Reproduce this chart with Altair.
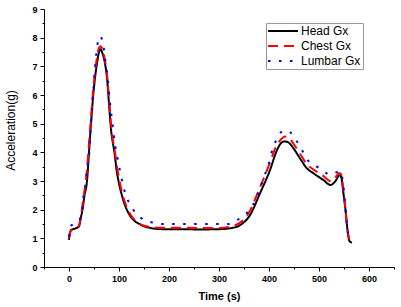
import altair as alt
import pandas as pd

series_names = ["Head Gx", "Chest Gx", "Lumbar Gx"]
series_colors = ["#000000", "#ff0000", "#0000ff"]
series_dash = [[1, 0], [10, 6], [2.5, 8.5]]

head_t = [0, 2, 5, 10, 15, 20, 24, 27, 31, 36, 40, 44, 48, 52, 56, 60, 63, 67, 72, 76, 80, 84,
          88, 91, 95, 99, 105, 111, 117, 125, 133, 141, 150, 161, 175, 190, 220, 260, 300, 322,
          342, 362, 382, 402, 416, 426, 432, 440, 449, 462, 476, 489, 509, 523, 529, 535, 539,
          542, 545, 548, 553, 557, 561, 566]
head_g = [0.95, 1.2, 1.3, 1.33, 1.36, 1.42, 1.75, 2.0, 2.5, 3.0, 4.0, 5.0, 5.9, 6.6, 7.1, 7.5,
          7.6, 7.45, 7.1, 6.6, 5.7, 4.8, 4.3, 4.0, 3.4, 3.0, 2.55, 2.2, 1.95, 1.72, 1.58, 1.5,
          1.42, 1.37, 1.33, 1.32, 1.32, 1.31, 1.32, 1.35, 1.46, 1.81, 2.57, 3.38, 4.08, 4.35,
          4.38, 4.33, 4.14, 3.79, 3.44, 3.27, 3.03, 2.86, 2.92, 3.05, 3.18, 3.2, 3.1, 2.69,
          1.99, 1.29, 0.9, 0.85]

chest_t = [0, 3, 5, 10, 15, 20, 24, 28, 32, 36, 40, 44, 48, 52, 56, 60, 63, 67, 72, 76, 80, 84,
           88, 92, 96, 100, 106, 112, 118, 126, 134, 142, 152, 163, 180, 220, 260, 300, 320, 340,
           360, 380, 400, 414, 424, 432, 440, 449, 462, 476, 489, 509, 523, 530, 536, 541, 545,
           548, 553, 557, 561]
chest_g = [1.0, 1.25, 1.28, 1.32, 1.36, 1.45, 1.8, 2.3, 2.8, 3.4, 4.3, 5.2, 6.1, 6.8, 7.3, 7.65,
           7.7, 7.6, 7.2, 6.7, 5.9, 5.0, 4.4, 4.0, 3.5, 3.1, 2.6, 2.25, 2.0, 1.75, 1.6, 1.5, 1.43,
           1.4, 1.37, 1.37, 1.36, 1.36, 1.4, 1.52, 1.9, 2.7, 3.55, 4.2, 4.45, 4.55, 4.5, 4.3,
           3.95, 3.58, 3.4, 3.17, 3.0, 3.05, 3.2, 3.28, 3.2, 2.8, 2.0, 1.3, 0.92]

lumbar_t = [0, 4, 10, 16, 23, 27, 29, 33, 35, 38, 41, 42, 43.5, 45, 47, 48, 50, 51.5, 53.5, 56,
            59.5, 62, 68, 71.5, 74, 77.5, 79.5, 81.5, 84, 87, 89.5, 92.5, 96.5, 101, 105.5, 111,
            119, 130, 145, 167, 190, 250, 320, 328, 347, 362, 375, 383, 390, 399, 404, 411, 420,
            432, 439, 454, 466, 476, 494, 513, 521, 529, 544, 548, 551, 554, 557, 559]
lumbar_g = [1.05, 1.44, 1.5, 1.57, 1.7, 2.1, 2.5, 2.88, 3.27, 3.67, 4.05, 4.47, 4.86, 5.27,
            5.66, 6.03, 6.45, 6.85, 7.24, 7.63, 8.01, 8.05, 7.79, 7.37, 6.99, 6.6, 6.2, 5.81,
            5.41, 5.01, 4.63, 4.23, 3.85, 3.44, 3.06, 2.66, 2.28, 1.96, 1.7, 1.55, 1.5, 1.5, 1.5,
            1.58, 1.75, 2.02, 2.4, 2.78, 3.15, 3.56, 3.93, 4.28, 4.63, 4.76, 4.74, 4.43, 4.08,
            3.76, 3.53, 3.29, 3.22, 3.27, 3.33, 2.92, 2.4, 1.8, 1.3, 1.05]

x_ticks = list(range(-50, 651, 50))
y_ticks = [v / 2 for v in range(0, 19)]

rows = []
for name, ts, gs in zip(series_names, [head_t, chest_t, lumbar_t], [head_g, chest_g, lumbar_g]):
    for t, g in zip(ts, gs):
        rows.append({"series": name, "t": t, "g": g})
df = pd.DataFrame(rows)

FONT = "Liberation Sans"

x_enc = alt.X(
    "t:Q",
    scale=alt.Scale(domain=[-50, 650], nice=False, zero=False),
    axis=alt.Axis(
        title="Time (s)",
        values=x_ticks,
        labelExpr="datum.value % 100 === 0 ? format(datum.value, 'd') : ''",
        tickSize={"condition": {"test": "datum.value % 100 === 0", "value": 4}, "value": 2},
        labelPadding=3,
        titlePadding=7,
        titleFontWeight="bold",
        titleFontSize=11,
    ),
)
y_enc = alt.Y(
    "g:Q",
    scale=alt.Scale(domain=[0, 9], nice=False),
    axis=alt.Axis(
        title="Acceleration(g)",
        values=y_ticks,
        labelExpr="datum.value % 1 === 0 ? format(datum.value, 'd') : ''",
        tickSize={"condition": {"test": "datum.value % 1 === 0", "value": 4}, "value": 2},
        labelPadding=3,
        titleFontWeight="normal",
        titleFontSize=12,
        titleX=-30,
        titleY=121,
        titleBaseline="alphabetic",
        titleAlign="center",
    ),
)
color_enc = alt.Color(
    "series:N",
    scale=alt.Scale(domain=series_names, range=series_colors),
    legend=alt.Legend(
        title=None,
        orient="none",
        legendX=222,
        legendY=14,
        strokeColor="#999999",
        padding=2,
        cornerRadius=0,
        symbolType="M-3,0H3",
        symbolSize=100,
        symbolOffset=9,
        symbolStrokeWidth=2,
        labelFontSize=12,
        labelFont=FONT,
        labelOffset=12,
        rowPadding=3,
    ),
)
dash_enc = alt.StrokeDash(
    "series:N",
    scale=alt.Scale(domain=series_names, range=series_dash),
    legend=None,
)

base = alt.Chart(df).mark_line(strokeWidth=2, interpolate="monotone").encode(
    x=x_enc, y=y_enc, color=color_enc, strokeDash=dash_enc
)

layers = [base.transform_filter(alt.datum.series == n) for n in series_names]

chart = alt.layer(*layers).properties(
    width=350,
    height=258,
    autosize=alt.AutoSizeParams(type="none"),
    padding={"left": 44, "top": 9, "right": 7, "bottom": 40},
    background="white",
).configure_view(stroke=None).configure_axis(
    grid=False,
    domainColor="black",
    tickColor="black",
    labelFont=FONT,
    labelFontWeight="bold",
    labelFontSize=9,
    labelColor="black",
    titleFont=FONT,
    titleColor="black",
)

chart.save("out.html", embed_options={"renderer": "svg", "actions": False})
